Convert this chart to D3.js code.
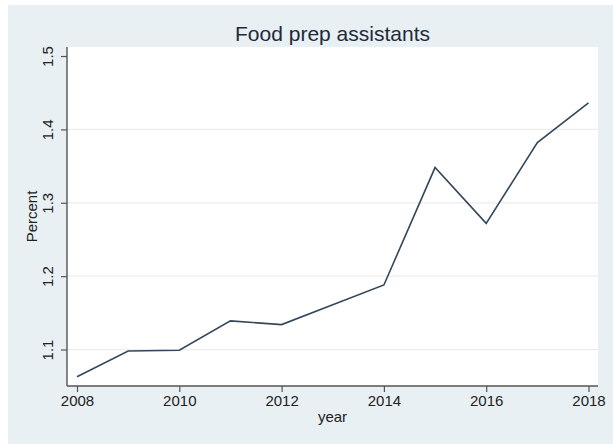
<!DOCTYPE html>
<html>
<head>
<meta charset="utf-8">
<script src="https://cdn.jsdelivr.net/npm/d3@7"></script>
<style>
  html, body { margin: 0; padding: 0; background: #ffffff; }
  svg { display: block; font-family: "Liberation Sans", Arial, sans-serif; }
</style>
</head>
<body>
<svg id="chart" width="613" height="444"></svg>
<script>
// Share of employment, food preparation assistants
const years = [2008, 2009, 2010, 2011, 2012, 2013, 2014, 2015, 2016, 2017, 2018];
const percent = [1.063, 1.098, 1.099, 1.139, 1.134, 1.161, 1.188, 1.348, 1.272, 1.382, 1.436];
const yTicks = [1.1, 1.2, 1.3, 1.4, 1.5];
const xTicks = [2008, 2010, 2012, 2014, 2016, 2018];
const titleText = "Food prep assistants";
const xTitle = "year";
const yTitle = "Percent";

const svg = d3.select("#chart");
const W = 613, H = 444;

// graph region background
svg.append("rect").attr("x", 8).attr("y", 5).attr("width", W - 8).attr("height", H - 5)
  .attr("fill", "#e8f0f3");

// plot region
const plot = { left: 67, right: 598, top: 47, bottom: 386 };
svg.append("rect")
  .attr("x", plot.left).attr("y", plot.top)
  .attr("width", plot.right - plot.left).attr("height", plot.bottom - plot.top)
  .attr("fill", "#ffffff");

const x = d3.scaleLinear().domain([2008, 2018]).range([77, 588.5]);
const y = d3.scaleLinear().domain([1.0503, 1.5123]).range([plot.bottom, plot.top]);

// horizontal grid lines (not at the top label)
svg.append("g").selectAll("line")
  .data(yTicks.filter(d => d < 1.5))
  .join("line")
  .attr("x1", plot.left).attr("x2", plot.right)
  .attr("y1", d => y(d)).attr("y2", d => y(d))
  .attr("stroke", "#ececec").attr("stroke-width", 1.2);

// y axis
const yAxis = d3.axisLeft(y).tickValues(yTicks).tickFormat(d3.format(".1f"))
  .tickSize(6).tickSizeOuter(0);
const gy = svg.append("g").attr("transform", `translate(${plot.left},0)`).call(yAxis);
gy.select(".domain").attr("stroke", "#555").attr("stroke-width", 1.4)
  .attr("d", `M0,${plot.top}V${plot.bottom}`);
gy.selectAll(".tick line").attr("stroke", "#555").attr("stroke-width", 1.2);
gy.selectAll(".tick text")
  .attr("font-size", 15).attr("fill", "#222")
  .attr("transform", "rotate(-90)")
  .attr("x", 0).attr("y", -14)
  .attr("dy", 0)
  .attr("text-anchor", "middle");

// x axis
const xAxis = d3.axisBottom(x).tickValues(xTicks).tickFormat(d3.format("d"))
  .tickSize(6).tickSizeOuter(0);
const gx = svg.append("g").attr("transform", `translate(0,${plot.bottom})`).call(xAxis);
gx.select(".domain").attr("stroke", "#555").attr("stroke-width", 1.4)
  .attr("d", `M${plot.left},0H${plot.right}`);
gx.selectAll(".tick line").attr("stroke", "#555").attr("stroke-width", 1.2);
gx.selectAll(".tick text")
  .attr("font-size", 15).attr("fill", "#222")
  .attr("y", 20).attr("dy", 0);

// series line
const line = d3.line().x((d, i) => x(years[i])).y(d => y(d));
svg.append("path")
  .datum(percent)
  .attr("d", line)
  .attr("fill", "none")
  .attr("stroke", "#34475a")
  .attr("stroke-width", 1.6)
  .attr("stroke-linejoin", "miter");

// titles
svg.append("text")
  .attr("x", (plot.left + plot.right) / 2).attr("y", 41)
  .attr("text-anchor", "middle").attr("font-size", 21).attr("fill", "#1f2a3a")
  .text(titleText);

svg.append("text")
  .attr("x", (plot.left + plot.right) / 2).attr("y", 422)
  .attr("text-anchor", "middle").attr("font-size", 15).attr("fill", "#222")
  .text(xTitle);

svg.append("text")
  .attr("transform", `translate(37,${(plot.top + plot.bottom) / 2}) rotate(-90)`)
  .attr("text-anchor", "middle").attr("font-size", 15).attr("fill", "#222")
  .text(yTitle);
</script>
</body>
</html>
